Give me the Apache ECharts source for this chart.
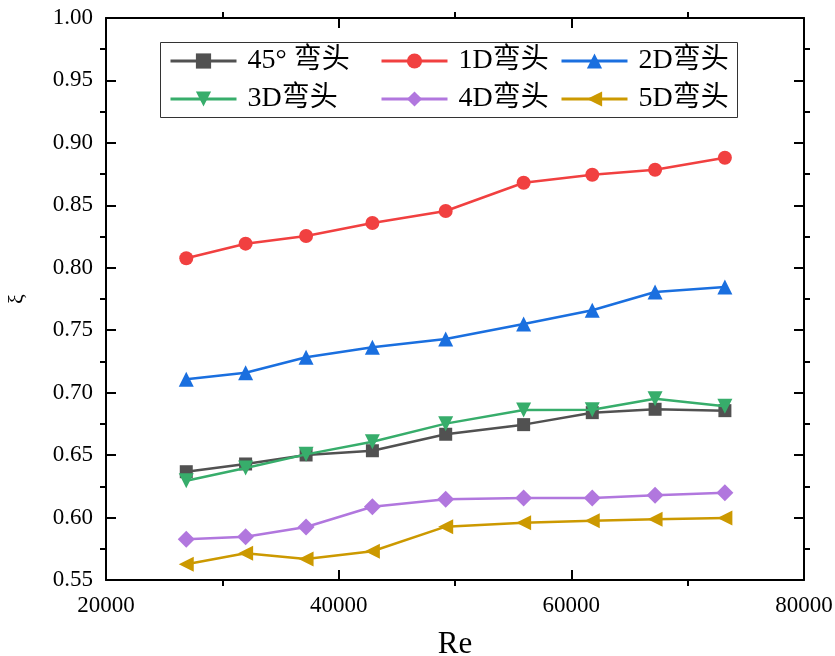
<!DOCTYPE html>
<html>
<head>
<meta charset="utf-8">
<script src="https://cdn.jsdelivr.net/npm/echarts@6/dist/echarts.min.js"></script>
<style>
  html, body { margin: 0; padding: 0; background: #fff; }
  #chart { width: 835px; height: 656px; }
</style>
</head>
<body>
<div id="chart"></div>
<script>
// Reynolds numbers of the test points
const reValues = [26900, 32000, 37200, 42900, 49200, 55900, 61800, 67200, 73200];

// Loss coefficient ξ for each bend
const bend45 = [0.6367, 0.6429, 0.6501, 0.6535, 0.6667, 0.6744, 0.6840, 0.6867, 0.6856];
const bend1D = [0.8076, 0.8193, 0.8254, 0.8359, 0.8455, 0.8681, 0.8745, 0.8785, 0.8881];
const bend2D = [0.7107, 0.7160, 0.7283, 0.7363, 0.7430, 0.7550, 0.7660, 0.7806, 0.7846];
const bend3D = [0.6295, 0.6397, 0.6506, 0.6607, 0.6752, 0.6861, 0.6864, 0.6952, 0.6891];
const bend4D = [0.5826, 0.5847, 0.5924, 0.6087, 0.6146, 0.6157, 0.6157, 0.6178, 0.6199];
const bend5D = [0.5626, 0.5714, 0.5668, 0.5730, 0.5927, 0.5959, 0.5975, 0.5986, 0.5996];

const seriesNames = ['45° 弯头', '1D弯头', '2D弯头', '3D弯头', '4D弯头', '5D弯头'];

// Axis ranges and tick positions
const xMin = 20000, xMax = 80000, xStep = 20000;
const xMinorTicks = [30000, 50000, 70000];
const yMin = 0.55, yMax = 1.00, yStep = 0.05;
const yMinorTicks = [0.575, 0.625, 0.675, 0.725, 0.775, 0.825, 0.875, 0.925, 0.975];

const FONT = "'Liberation Serif', 'Noto Sans CJK SC', serif";
const gridBox = { left: 106, right: 31, top: 18, bottom: 76, containLabel: false, outerBoundsMode: 'none' };

const pairs = (ys) => reValues.map((x, i) => [x, ys[i]]);

const styles = [
  { color: '#515151', symbol: 'rect', size: 13, rotate: 0 },
  { color: '#F14040', symbol: 'circle', size: 14, rotate: 0 },
  { color: '#1A6FDF', symbol: 'triangle', size: 15, rotate: 0 },
  { color: '#37AD6B', symbol: 'triangle', size: 15, rotate: 180 },
  { color: '#B177DE', symbol: 'diamond', size: 17, rotate: 0 },
  { color: '#CC9900', symbol: 'triangle', size: 15, rotate: 90 }
];
const seriesData = [bend45, bend1D, bend2D, bend3D, bend4D, bend5D];

const axisLine = { show: true, lineStyle: { color: '#000', width: 2 } };
const majorTick = { show: true, inside: true, length: 10, lineStyle: { color: '#000', width: 2 } };

function majorX(position, withLabel) {
  return {
    type: 'value', gridIndex: 0, position, min: xMin, max: xMax, interval: xStep,
    axisLine, axisTick: majorTick, splitLine: { show: false },
    axisLabel: { show: withLabel, color: '#000', fontFamily: FONT, fontSize: 23, margin: 14,
      formatter: (v) => String(v) },
    name: withLabel ? 'Re' : '', nameLocation: 'middle', nameGap: 49,
    nameTextStyle: { color: '#000', fontFamily: FONT, fontSize: 31 }
  };
}
function minorX(position) {
  return {
    type: 'value', gridIndex: 1, position, min: xMin, max: xMax, interval: xStep,
    axisLine: { show: false },
    axisTick: { show: true, inside: false, length: 6, customValues: xMinorTicks, lineStyle: { color: '#000', width: 2 } },
    axisLabel: { show: false }, splitLine: { show: false }
  };
}
function majorY(position, withLabel) {
  return {
    type: 'value', gridIndex: 0, position, min: yMin, max: yMax, interval: yStep,
    axisLine, axisTick: majorTick, splitLine: { show: false },
    axisLabel: { show: withLabel, color: '#000', fontFamily: FONT, fontSize: 23, margin: 13,
      formatter: (v) => v.toFixed(2) },
    name: withLabel ? 'ξ' : '', nameLocation: 'middle', nameGap: 78, nameRotate: 90,
    nameTextStyle: { color: '#000', fontFamily: FONT, fontSize: 22 }
  };
}
function minorY(position) {
  return {
    type: 'value', gridIndex: 1, position, min: yMin, max: yMax, interval: yStep,
    axisLine: { show: false },
    axisTick: { show: true, inside: false, length: 6, customValues: yMinorTicks, lineStyle: { color: '#000', width: 2 } },
    axisLabel: { show: false }, splitLine: { show: false }
  };
}

const legendText = { color: '#000', fontFamily: FONT, fontSize: 28, padding: [0, 0, 0, 6], lineHeight: 28 };
function legendColumn(names, left) {
  return {
    data: names, orient: 'vertical', left, top: 42, itemGap: 10,
    itemWidth: 66, itemHeight: 19, textStyle: legendText,
    lineStyle: { width: 3 },
    selectedMode: false
  };
}

const option = {
  animation: false,
  backgroundColor: '#fff',
  grid: [
    Object.assign({}, gridBox),
    Object.assign({}, gridBox)
  ],
  xAxis: [majorX('bottom', true), majorX('top', false), minorX('bottom'), minorX('top')],
  yAxis: [majorY('left', true), majorY('right', false), minorY('left'), minorY('right')],
  legend: [
    legendColumn([seriesNames[0], seriesNames[3]], 164),
    legendColumn([seriesNames[1], seriesNames[4]], 375),
    legendColumn([seriesNames[2], seriesNames[5]], 555)
  ],
  graphic: [{
    type: 'rect', left: 160, top: 42, z: 0,
    shape: { width: 577, height: 75 },
    style: { fill: '#fff', stroke: '#333', lineWidth: 1 }
  }],
  series: seriesNames.map((name, i) => ({
    name, type: 'line', xAxisIndex: 0, yAxisIndex: 0,
    data: pairs(seriesData[i]),
    symbol: styles[i].symbol, symbolSize: styles[i].size, symbolRotate: styles[i].rotate,
    showAllSymbol: true,
    lineStyle: { color: styles[i].color, width: 2.5 },
    itemStyle: { color: styles[i].color },
    z: 3 + i
  }))
};

const chart = echarts.init(document.getElementById('chart'), null, { renderer: 'canvas' });
chart.setOption(option);
</script>
</body>
</html>
